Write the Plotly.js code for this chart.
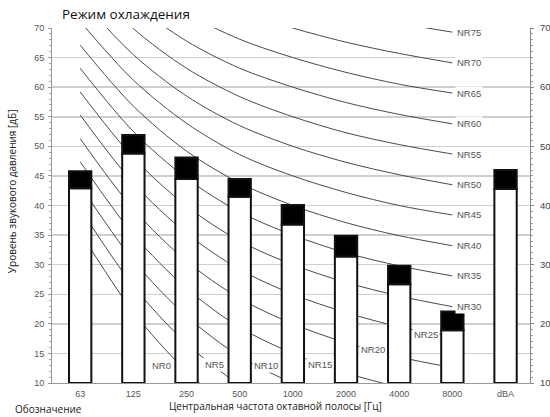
<!DOCTYPE html>
<html><head><meta charset="utf-8">
<script src="https://cdn.plot.ly/plotly-3.0.1.min.js"></script>
<style>html,body{margin:0;padding:0;background:#fff;} #chart{width:550px;height:417px;}</style>
</head><body><div id="chart"></div>
<script>
// ---- data ----
const categories = ["63","125","250","500","1000","2000","4000","8000","dBA"];
const bands = ["63","125","250","500","1000","2000","4000","8000"];
const levelLower = [42.9, 48.8, 44.5, 41.5, 36.8, 31.4, 26.7, 18.9, 42.8];
const levelUpper = [45.8, 51.9, 48.1, 44.5, 40.1, 34.9, 29.8, 22.1, 46.0];
const nrRatings = [0,5,10,15,20,25,30,35,40,45,50,55,60,65,70,75];
const nrCurves = [
  [35.5, 22.0, 12.0,  4.8,  0.0, -3.5, -6.1, -8.0],
  [39.5, 26.4, 16.7,  9.7,  5.0,  1.6, -1.0, -2.9],
  [43.4, 30.7, 21.3, 14.5, 10.0,  6.7,  4.2,  2.3],
  [47.4, 35.1, 26.0, 19.4, 15.0, 11.7,  9.3,  7.5],
  [51.3, 39.4, 30.6, 24.3, 20.0, 16.8, 14.4, 12.6],
  [55.3, 43.8, 35.3, 29.2, 25.0, 21.9, 19.5, 17.8],
  [59.2, 48.1, 39.9, 34.0, 30.0, 27.0, 24.7, 22.9],
  [63.2, 52.5, 44.6, 38.9, 35.0, 32.0, 29.8, 28.1],
  [67.1, 56.8, 49.2, 43.8, 40.0, 37.1, 34.9, 33.2],
  [71.1, 61.2, 53.9, 48.6, 45.0, 42.2, 40.0, 38.4],
  [75.0, 65.5, 58.5, 53.5, 50.0, 47.3, 45.2, 43.5],
  [79.0, 69.9, 63.2, 58.4, 55.0, 52.3, 50.3, 48.7],
  [82.9, 74.2, 67.8, 63.2, 60.0, 57.4, 55.4, 53.8],
  [86.9, 78.6, 72.5, 68.1, 65.0, 62.5, 60.5, 59.0],
  [90.8, 82.9, 77.1, 73.0, 70.0, 67.6, 65.7, 64.1],
  [94.8, 87.3, 81.8, 77.9, 75.0, 72.6, 70.8, 69.3]
];
const yMin = 10, yMax = 70;

// ---- traces ----
const traces = nrCurves.map(vals => ({
  type: 'scatter', mode: 'lines', x: bands, y: vals, xaxis: 'x', yaxis: 'y',
  line: {color: '#4a4a4a', width: 1, shape: 'spline', smoothing: 0.9},
  hoverinfo: 'skip', showlegend: false
}));
traces.push({
  type: 'bar', x: categories, base: yMin, y: levelLower.map(v => v - yMin),
  xaxis: 'x2', yaxis: 'y2', width: 0.42,
  marker: {color: '#ffffff', line: {color: '#111', width: 2}}, showlegend: false
});
traces.push({
  type: 'bar', x: categories, base: levelLower, y: levelUpper.map((v, i) => v - levelLower[i]),
  xaxis: 'x2', yaxis: 'y2', width: 0.42,
  marker: {color: '#000000', line: {color: '#111', width: 2}}, showlegend: false
});

// ---- NR labels ----
const lblFont = {family: 'Liberation Sans, Arial, sans-serif', size: 9.5, color: '#555'};
const annotations = [];
const bottomPos = {0: [1.535, 13.0], 5: [2.53, 13.2], 10: [3.5, 13.0], 15: [4.51, 13.2], 20: [5.51, 15.65], 25: [6.5, 18.25]};
nrRatings.forEach((r, k) => {
  if (r < 30) {
    const p = bottomPos[r];
    annotations.push({xref: 'x', yref: 'y', x: p[0], y: p[1], text: 'NR' + r, showarrow: false,
      xanchor: 'center', yanchor: 'middle', font: lblFont, bgcolor: '#fff', borderpad: 1});
  } else {
    annotations.push({xref: 'x', yref: 'y', x: 7, y: nrCurves[k][7], xshift: 3, text: 'NR' + r, showarrow: false,
      xanchor: 'left', yanchor: 'middle', font: lblFont, bgcolor: '#fff', borderpad: 1});
  }
});
const txtFont = {family: 'Open Sans, sans-serif', color: '#222'};
annotations.push({xref: 'paper', yref: 'paper', x: (12 - 52) / 478, y: (382.7 - 191) / 354.7, textangle: -90,
  text: 'Уровень звукового давления [дБ]', showarrow: false, xanchor: 'center', yanchor: 'middle',
  font: Object.assign({size: 10}, txtFont)});
annotations.push({xref: 'paper', yref: 'paper', x: (275 - 52) / 478, y: (382.7 - 406) / 354.7,
  text: 'Центральная частота октавной полосы [Гц]', showarrow: false, xanchor: 'center', yanchor: 'middle',
  font: Object.assign({size: 10}, txtFont)});
annotations.push({xref: 'paper', yref: 'paper', x: (48.5 - 52) / 478, y: (382.7 - 409) / 354.7,
  text: 'Обозначение', showarrow: false, xanchor: 'center', yanchor: 'middle',
  font: Object.assign({size: 10}, txtFont)});

const tickFont = {family: 'Liberation Sans, Arial, sans-serif', size: 9, color: '#555'};
const xr = [-0.53, 8.46];
const layout = {
  width: 550, height: 417,
  margin: {l: 52, r: 20, t: 28, b: 34.3, pad: 0},
  paper_bgcolor: '#fff', plot_bgcolor: '#fff',
  showlegend: false, barmode: 'overlay',
  title: {text: 'Режим охлаждения', x: 62 / 550, xanchor: 'left', xref: 'container',
    y: 1 - 14 / 417, yanchor: 'middle', yref: 'container', font: {family: 'Open Sans, sans-serif', size: 13.5, color: '#111'}},
  xaxis: {type: 'category', categoryorder: 'array', categoryarray: categories, range: xr,
    showgrid: false, zeroline: false, showline: true, linecolor: '#999', linewidth: 1,
    ticks: '', tickfont: tickFont, ticklabelstandoff: 2, fixedrange: true},
  yaxis: {range: [yMin, yMax], dtick: 5, tick0: 10, showgrid: true, gridcolor: '#cfcfcf', gridwidth: 1.5,
    zeroline: false, showline: true, linecolor: '#999', linewidth: 1,
    ticks: 'outside', ticklen: 3, tickcolor: '#999', tickfont: tickFont, ticklabelstandoff: 2,
    minor: {dtick: 1, ticks: 'outside', ticklen: 2, tickcolor: '#aaa', showgrid: false}},
  xaxis2: {type: 'category', categoryorder: 'array', categoryarray: categories, range: xr,
    overlaying: 'x', showgrid: false, zeroline: false, showticklabels: false, ticks: '', showline: false},
  yaxis2: {range: [yMin, yMax], dtick: 10, tick0: 10, overlaying: 'y', side: 'right',
    showgrid: false, zeroline: false, showline: true, linecolor: '#888', linewidth: 1,
    ticks: 'outside', ticklen: 3, tickcolor: '#888', tickfont: {family: 'Liberation Sans, Arial, sans-serif', size: 9.5, color: '#444'},
    ticklabelstandoff: 4,
    minor: {dtick: 1, ticks: 'outside', ticklen: 2, tickcolor: '#999', showgrid: false}},
  annotations: annotations
};
Plotly.newPlot('chart', traces, layout, {staticPlot: true, displayModeBar: false});
</script></body></html>
